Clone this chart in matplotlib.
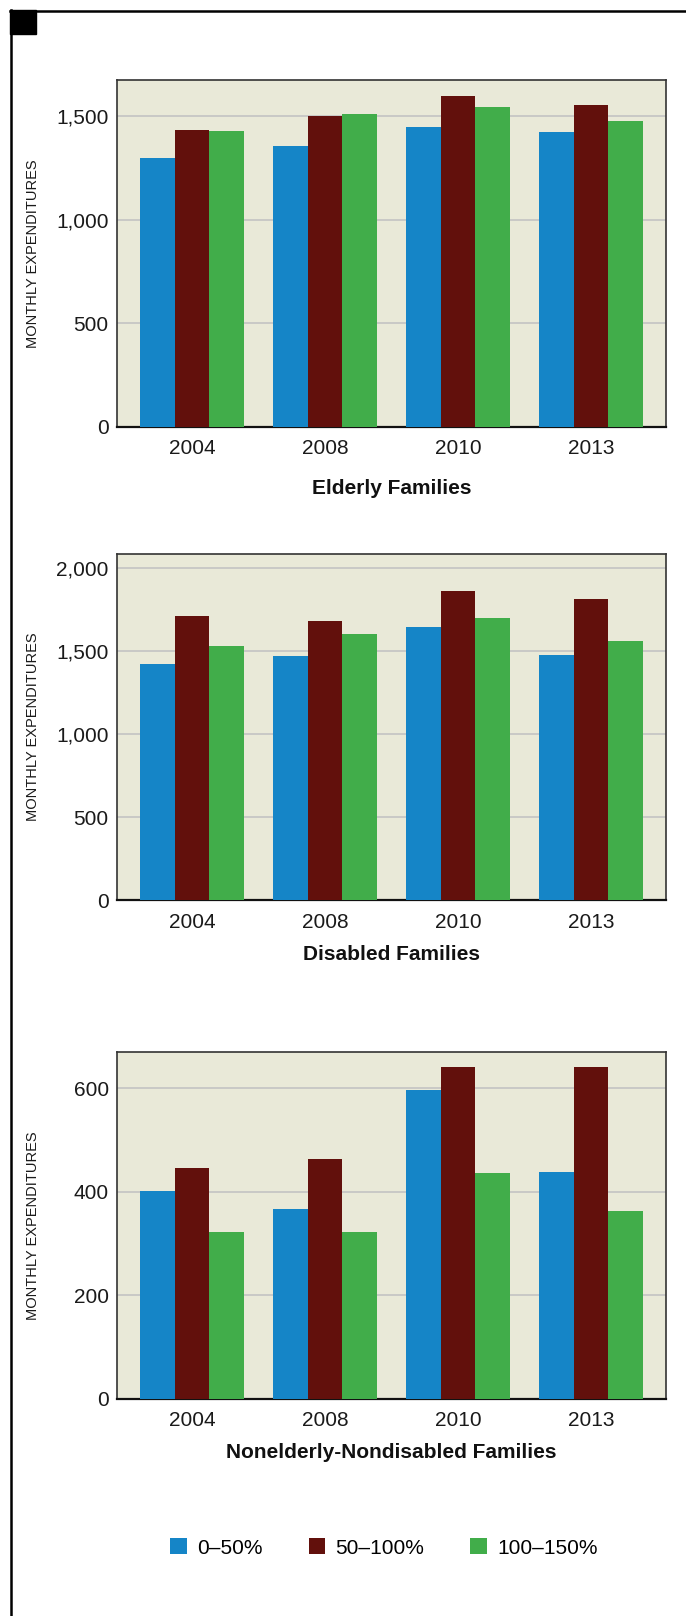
import matplotlib
matplotlib.use("Agg")
import matplotlib.pyplot as plt
from matplotlib.patches import Rectangle, Patch
from matplotlib.lines import Line2D
from matplotlib.ticker import FuncFormatter, MultipleLocator
import numpy as np

plt.rcParams['font.family'] = ['Liberation Sans', 'DejaVu Sans']

years = ["2004", "2008", "2010", "2013"]
series_labels = ["0\u201350%", "50\u2013100%", "100\u2013150%"]
series_colors = ["#1585c7", "#62100c", "#41ad4a"]

# monthly expenditures by income band (% of poverty line)
elderly_0_50 = [1297, 1354, 1450, 1422]
elderly_50_100 = [1436, 1503, 1600, 1552]
elderly_100_150 = [1427, 1513, 1547, 1479]

disabled_0_50 = [1422, 1470, 1645, 1476]
disabled_50_100 = [1711, 1681, 1861, 1813]
disabled_100_150 = [1530, 1602, 1699, 1560]

nonelderly_0_50 = [401, 367, 596, 438]
nonelderly_50_100 = [446, 463, 642, 642]
nonelderly_100_150 = [322, 322, 436, 363]

panel_titles = ["Elderly Families", "Disabled Families",
                "Nonelderly-Nondisabled Families"]

W, H = 686, 1616
fig = plt.figure(figsize=(W / 100, H / 100), dpi=100)

# panel boxes in pixels: (top, bottom, ymax, tick step, title y)
panels = [
    (80, 427, 1675, 500, 488,
     [elderly_0_50, elderly_50_100, elderly_100_150]),
    (554, 900, 2087, 500, 955,
     [disabled_0_50, disabled_50_100, disabled_100_150]),
    (1052, 1399, 670, 200, 1453,
     [nonelderly_0_50, nonelderly_50_100, nonelderly_100_150]),
]

ax_left, ax_right = 117, 666
bar_w = 0.26
x = np.arange(len(years))

for (top, bottom, ymax, step, title_y, data), title in zip(panels, panel_titles):
    ax = fig.add_axes([ax_left / W, 1 - bottom / H,
                       (ax_right - ax_left) / W, (bottom - top) / H])
    ax.set_facecolor("#e9e9d8")
    for i, (vals, color) in enumerate(zip(data, series_colors)):
        ax.bar(x + (i - 1) * bar_w, vals, width=bar_w, color=color,
               zorder=3, linewidth=0)
    ax.set_xlim(-0.563, 3.563)
    ax.set_ylim(0, ymax)
    ax.yaxis.set_major_locator(MultipleLocator(step))
    ax.yaxis.set_major_formatter(FuncFormatter(lambda v, p: f"{int(v):,}"))
    ax.grid(axis="y", color="#c3c3c3", linewidth=1.2, zorder=1)
    ax.set_xticks(x)
    ax.set_xticklabels(years)
    ax.tick_params(axis="both", length=0, labelsize=15, colors="#1a1a1a")
    ax.tick_params(axis="x", pad=9)
    ax.tick_params(axis="y", pad=6)
    for side in ["top", "right", "left"]:
        ax.spines[side].set_color("#333333")
        ax.spines[side].set_linewidth(1.2)
    ax.spines["bottom"].set_color("#111111")
    ax.spines["bottom"].set_linewidth(1.6)

    fig.text(33 / W, 1 - (top + bottom) / 2 / H, "MONTHLY EXPENDITURES",
             rotation=90, ha="center", va="center", fontsize=10.5,
             color="#1a1a1a")
    fig.text((ax_left + ax_right) / 2 / W, 1 - title_y / H, title,
             ha="center", va="center", fontsize=15, fontweight="bold",
             color="#111111")

handles = [Patch(facecolor=c, edgecolor="none", label=l)
           for c, l in zip(series_colors, series_labels)]
fig.legend(handles=handles, loc="center", bbox_to_anchor=(384 / W, 1 - 1548 / H),
           ncol=3, frameon=False, fontsize=15, handlelength=0.8,
           handleheight=0.8, handletextpad=0.5, columnspacing=2.2)

# page frame: rule across the top, rule down the left, corner block
fig.add_artist(Line2D([10 / W, 1], [1 - 11 / H, 1 - 11 / H],
                      transform=fig.transFigure, color="black", linewidth=1.8))
fig.add_artist(Line2D([11 / W, 11 / W], [0, 1 - 10 / H],
                      transform=fig.transFigure, color="black", linewidth=1.8))
fig.add_artist(Rectangle((10 / W, 1 - 34 / H), 26 / W, 24 / H,
                         transform=fig.transFigure, color="black"))

fig.savefig("out.png", dpi=100)
